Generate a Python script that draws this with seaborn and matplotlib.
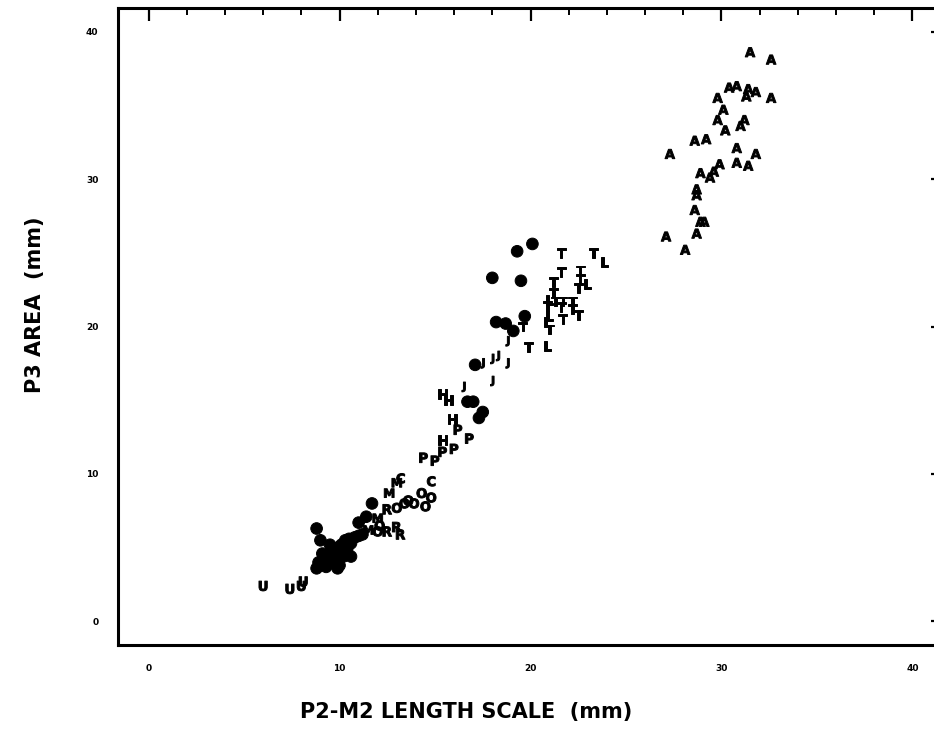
import matplotlib
matplotlib.use("Agg")
import matplotlib.pyplot as plt
import seaborn as sns
import pandas as pd
from matplotlib.ticker import MultipleLocator

# ---- data ----
A_x = [31.5, 32.6, 30.4, 30.8, 31.4, 31.8, 31.3, 29.8, 32.6, 30.1, 29.8, 31.2, 31.0, 30.2,
       28.6, 29.2, 27.3, 30.8, 31.8, 29.9, 30.8, 31.4, 28.9, 29.6, 29.4, 28.7, 28.7, 28.6,
       28.9, 29.1, 28.7, 27.1, 28.1]
A_y = [38.6, 38.1, 36.2, 36.3, 36.1, 35.9, 35.6, 35.5, 35.5, 34.7, 34.0, 34.0, 33.6, 33.3,
       32.6, 32.7, 31.7, 32.1, 31.7, 31.0, 31.1, 30.9, 30.4, 30.5, 30.1, 29.3, 28.9, 27.9,
       27.1, 27.1, 26.3, 26.1, 25.2]

B_x = [20.1, 19.3, 18.0, 19.5, 19.7, 18.2, 18.7, 19.1, 17.1, 16.7, 17.0, 17.5, 17.3,
       8.8, 11.7, 11.0, 11.4, 9.0,
       8.8, 8.9, 9.0, 9.2, 9.3, 9.4, 9.5, 9.6, 9.7, 9.8, 9.9, 10.0, 10.1, 10.2, 10.3,
       10.4, 10.5, 10.6, 10.8, 11.0, 9.1, 9.5, 10.0, 10.6, 11.2, 9.9]
B_y = [25.6, 25.1, 23.3, 23.1, 20.7, 20.3, 20.2, 19.7, 17.4, 14.9, 14.9, 14.2, 13.8,
       6.3, 8.0, 6.7, 7.1, 5.5,
       3.6, 4.0, 3.8, 4.2, 3.7, 4.5, 4.0, 4.8, 4.3, 3.9, 5.0, 4.6, 5.2, 4.4, 5.5,
       4.9, 5.6, 5.3, 5.7, 5.8, 4.6, 5.2, 3.8, 4.4, 5.9, 3.6]

T_x = [21.6, 23.3, 21.6, 22.6, 22.6, 21.2, 22.5, 21.2, 21.3, 21.7, 22.2, 21.6, 22.2,
       22.5, 21.7, 21.0, 19.6, 19.9, 20.9]
T_y = [25.0, 25.0, 23.7, 23.8, 23.2, 23.0, 22.6, 22.3, 21.7, 21.7, 21.7, 21.3, 21.2,
       20.8, 20.5, 19.8, 20.0, 18.6, 21.4]

L_x = [23.9, 23.0, 21.0, 21.0, 20.9, 20.9]
L_y = [24.4, 22.9, 21.8, 20.7, 20.3, 18.7]

J_x = [18.8, 17.5, 18.0, 18.3, 18.8, 18.0, 16.5]
J_y = [19.0, 17.5, 17.8, 18.0, 17.5, 16.3, 15.9]

H_x = [15.4, 15.7, 15.9, 15.4]
H_y = [15.4, 15.0, 13.7, 12.3]

P_x = [16.2, 16.8, 16.0, 15.4, 14.4, 15.0]
P_y = [13.0, 12.4, 11.7, 11.5, 11.1, 10.9]

M_x = [13.0, 12.6, 11.5, 12.0]
M_y = [9.4, 8.7, 6.2, 7.0]

O_x = [14.5, 14.8, 14.3, 12.0, 13.6, 13.9, 12.1, 13.0, 13.4]
O_y = [7.8, 8.4, 8.7, 6.1, 8.2, 8.0, 6.5, 7.7, 8.0]

C_x = [14.8, 13.2]
C_y = [9.5, 9.7]

R_x = [12.5, 13.2, 13.0, 12.5]
R_y = [7.6, 5.9, 6.4, 6.1]

U_x = [6.0, 7.4, 8.0, 8.1]
U_y = [2.4, 2.2, 2.4, 2.7]

x_ticks = [0, 10, 20, 30, 40]
y_ticks = [0, 10, 20, 30, 40]

groups = {"A": (A_x, A_y), "B": (B_x, B_y), "T": (T_x, T_y), "L": (L_x, L_y),
          "J": (J_x, J_y), "H": (H_x, H_y), "P": (P_x, P_y), "M": (M_x, M_y),
          "O": (O_x, O_y), "C": (C_x, C_y), "R": (R_x, R_y), "U": (U_x, U_y)}
rows = []
for g, (xs, ys) in groups.items():
    for xv, yv in zip(xs, ys):
        rows.append({"x": xv, "y": yv, "group": g})
df = pd.DataFrame(rows)

markers = {g: (r"$\mathbf{%s}$" % g) for g in groups}
markers["B"] = "o"

sns.set_style("white")
plt.rcParams['font.family'] = ['DejaVu Sans']
plt.rcParams['text.color'] = 'black'
plt.rcParams['xtick.color'] = 'black'
plt.rcParams['ytick.color'] = 'black'

fig = plt.figure(figsize=(9.34, 7.44), dpi=100)
W, H = 934, 744
left, right, top, bottom = 118, 943, 8, 645
ax = fig.add_axes([left / W, (H - bottom) / H, (right - left) / W, (bottom - top) / H])

sizes = {g: 50 for g in groups}
sizes["B"] = 70
df["sz"] = df["group"].map(sizes)

sns.scatterplot(data=df, x="x", y="y", style="group", markers=markers, color="black",
                size="sz", sizes=(50, 70), linewidth=0.7, edgecolor="black",
                legend=False, ax=ax)

ax.set_xlim(-1.6, 41.6)
ax.set_ylim(-1.6, 41.6)
ax.set_xticks(x_ticks)
ax.set_yticks(y_ticks)
ax.set_xticklabels([str(v) for v in x_ticks], fontsize=6.5, fontweight="bold")
ax.set_yticklabels([str(v) for v in y_ticks], fontsize=6.5, fontweight="bold")
ax.xaxis.set_minor_locator(MultipleLocator(2))
ax.yaxis.set_minor_locator(MultipleLocator(2))
ax.tick_params(which="major", direction="in", length=9, width=1.6, top=True, right=True,
               pad=14, colors="black")
ax.tick_params(which="minor", direction="in", length=5, width=1.4, top=True, right=True)
for s in ax.spines.values():
    s.set_linewidth(2.2)
    s.set_color("black")
ax.set_xlabel("")
ax.set_ylabel("")

fig.text(466 / W, 1 - 712 / H, "P2-M2 LENGTH SCALE  (mm)", ha="center", va="center",
         fontsize=15, fontweight="bold", color="black")
fig.text(35 / W, 1 - 305 / H, "P3 AREA  (mm)", ha="center", va="center", rotation=90,
         fontsize=15, fontweight="bold", color="black")

fig.savefig("out.png", dpi=100, facecolor="white")
